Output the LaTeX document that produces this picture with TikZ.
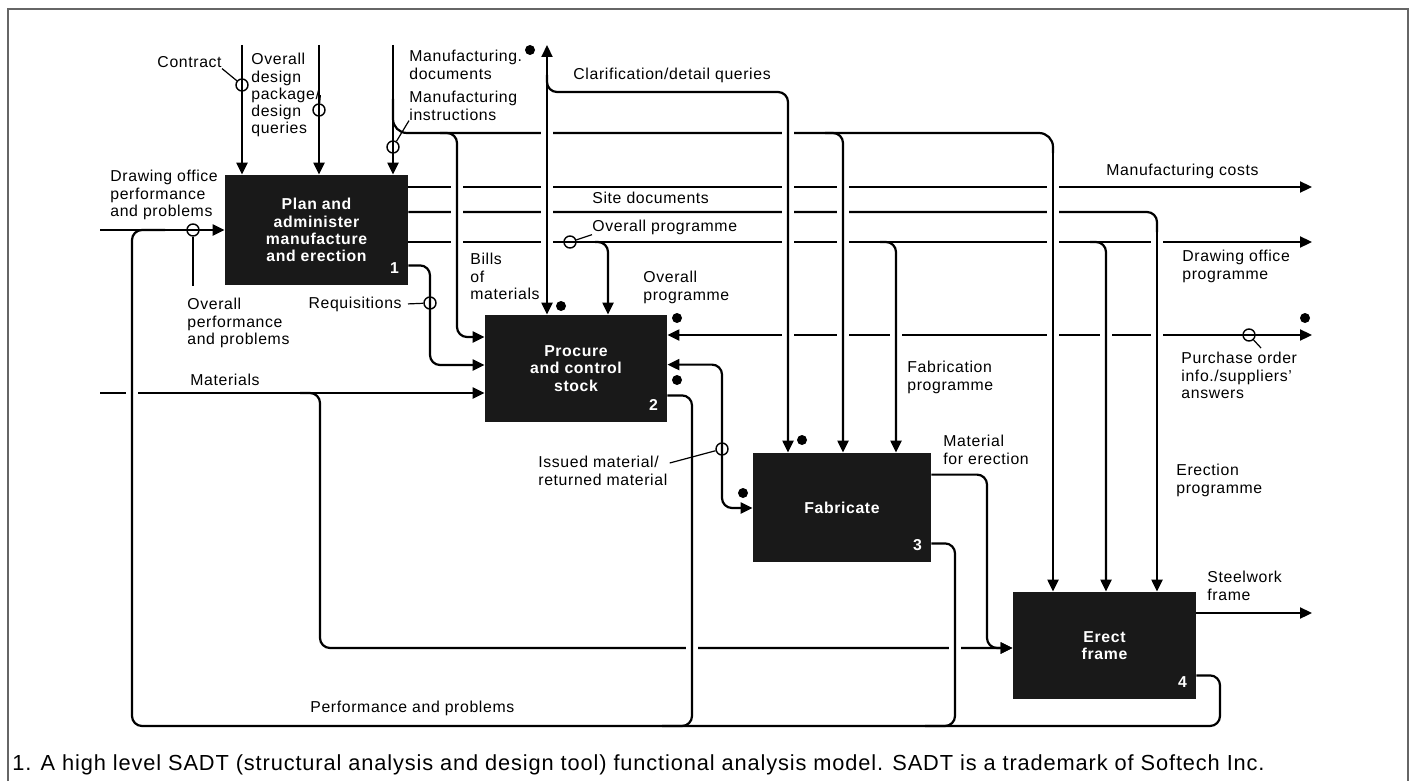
\documentclass[tikz,border=0pt]{standalone}
\usepackage{fontspec}
\setmainfont{Liberation Sans}[LetterSpace=4]
\usetikzlibrary{arrows.meta,positioning}

\newcommand{\lblsize}{\fontsize{7.9}{8.6}\selectfont}
\newcommand{\capsize}{\fontsize{10.9}{12}\selectfont}

\tikzset{
  fn/.style={fill=black!90, text=white, font=\lblsize\bfseries, align=center, inner sep=0pt},
  lbl/.style={font=\lblsize, align=left, inner sep=0pt},
  num/.style={text=white, font=\lblsize\bfseries, inner sep=0pt, anchor=base east},
  wire/.style={line width=1.1pt, rounded corners=5pt},
  flow/.style={wire, -{Triangle[length=6pt,width=5.5pt]}},
  flow2/.style={wire, {Triangle[length=6pt,width=5.5pt]}-{Triangle[length=6pt,width=5.5pt]}},
  tunnel/.style={circle, draw, line width=0.7pt, minimum size=6pt, inner sep=0pt},
  blob/.style={circle, fill=black, minimum size=5pt, inner sep=0pt},
  lead/.style={line width=0.6pt},
}

\begin{document}
\begin{tikzpicture}[x=0.5pt, y=-0.5pt]
    \useasboundingbox (0,0) rectangle (1412,781);
    \draw[black!60, line width=1pt] (8,781) -- (8,9) -- (1408,9) -- (1408,781);

    % Activity boxes
    \node[fn, minimum width=91.5pt, minimum height=55pt] (b1) at (316.5,230) {Plan and\\administer\\manufacture\\and erection};
    \node[fn, minimum width=91pt, minimum height=53.5pt] (b2) at (576,368.5) {Procure\\and control\\stock};
    \node[fn, minimum width=89pt, minimum height=54.5pt] (b3) at (842,507.5) {Fabricate};
    \node[fn, minimum width=91.5pt, minimum height=53.5pt] (b4) at (1104.5,645.5) {Erect\\frame};
    \node[num] (n1) at ([shift={(-9,-12)}]b1.south east) {1};
    \node[num] (n2) at ([shift={(-9,-12)}]b2.south east) {2};
    \node[num] (n3) at ([shift={(-9,-12)}]b3.south east) {3};
    \node[num] (n4) at ([shift={(-9,-12)}]b4.south east) {4};

    % Free ends and bends
    \coordinate (inC) at (242,45);
    \coordinate (inD) at (319,45);
    \coordinate (inI) at (393,45);
    \coordinate (outQ) at (547,45);
    \coordinate (inP) at (100,230);
    \coordinate (inM) at (100,393);
    \coordinate (oCost) at (1312,187);
    \coordinate (oDop) at (1312,242);
    \coordinate (oPo) at (1312,335);
    \coordinate (oSteel) at (1312,613);
    \coordinate (jDocs) at (1053,133);
    \coordinate (jSite) at (1157,212);
    \coordinate (jBom) at (457,337);
    \coordinate (jReq) at (430,365);
    \coordinate (jFab1) at (843,133);
    \coordinate (jFab2) at (896,242);
    \coordinate (jQry) at (788,92);
    \coordinate (jProg) at (608,242);
    \coordinate (jEr2) at (1106,242);
    \coordinate (jMat) at (320,648);
    \coordinate (jMfe) at (987,648);
    \coordinate (jIss) at (722,508);
    \coordinate (jOut2) at (692,726);
    \coordinate (jOut3) at (955,726);
    \coordinate (jOut4) at (1220,726);
    \coordinate (jLoop) at (132,726);
    \coordinate (jFeed) at (165,230);

    % Horizontal runs (broken where crossed)
    \draw[wire, rounded corners=7pt] ([yshift=-27pt]inI) |- (jDocs) -- ++(0,20);
    \draw[flow] (b1.east |- oCost) -- (oCost);
    \draw[wire] (b1.east |- jSite) -- (jSite) -- ++(0,20);
    \draw[flow] (b1.east |- oDop) -- (oDop);
    \draw[flow2] (b2.east |- oPo) -- (oPo);
    \draw[flow] (inM) -- (inM -| b2.west);
    \draw[flow] (300,393) -| (jMat) -- (jMat -| b4.west);
    \draw[flow] (inP) -- (inP -| b1.west);
    \draw[flow] (b4.east |- oSteel) -- (oSteel);

    % Gaps at crossings
    \foreach \x/\y in {457/187,457/212,457/242,547/133,547/187,547/212,547/242,
        788/133,788/187,788/212,788/242,788/335,843/187,843/212,843/242,843/335,
        896/335,1053/187,1053/212,1053/242,1053/335,1106/335,1157/242,1157/335,
        692/648,955/648,132/393}
        \fill[white] (\x-6,\y-3.5) rectangle (\x+6,\y+3.5);

    % Vertical runs
    \draw[flow] (inC) -- (inC |- b1.north);
    \draw[flow] (inD) -- (inD |- b1.north);
    \draw[flow] (inI) -- (inI |- b1.north);
    \draw[flow2] (outQ |- b2.north) -- (outQ);
    \draw[flow] ([yshift=-15pt]outQ) |- (jQry) -- (jQry |- b3.north);
    \draw[flow] (440,133) -| (jBom) -- (jBom -| b2.west);
    \draw[flow] ([yshift=10pt]b1.south east) -| (jReq) -- (jReq -| b2.west);
    \draw[flow] (595,242) -- (jProg) -- (jProg |- b2.north);
    \draw[flow] (825,133) -- (jFab1) -- (jFab1 |- b3.north);
    \draw[flow] (880,242) -- (jFab2) -- (jFab2 |- b3.north);
    \draw[flow] ([yshift=-8pt]jDocs) -- (jDocs |- b4.north);
    \draw[flow] (1090,242) -- (jEr2) -- (jEr2 |- b4.north);
    \draw[flow] ([yshift=-8pt]jSite) -- (jSite |- b4.north);
    \draw[flow2] ([yshift=-25pt]b2.north east) -| (jIss) -- (jIss -| b3.west);
    \draw[flow] ([yshift=-11pt]b3.north east) -| (jMfe) -- (jMfe -| b4.west);
    \draw[wire] ([yshift=13.5pt]b2.south east) -| (jOut2) -- ++(-30,0);
    \draw[wire] ([yshift=9.5pt]b3.south east) -| (jOut3) -- ++(-30,0);
    \draw[wire] ([yshift=12pt]b4.south east) -| (jOut4) -- (jLoop) |- (jFeed);

    % Labels
    \node[lbl, anchor=base east] (lcontract) at (222,68) {Contract};
    \node[lbl, anchor=north west] (ldesign) at (251,53) {Overall\\design\\package/\\design\\queries};
    \node[lbl, anchor=north west] (ldocs) at (409,50) {Manufacturing.\\documents};
    \node[lbl, anchor=north west] (linstr) at (409,91) {Manufacturing\\instructions};
    \node[lbl, anchor=base west] (lquery) at (573,80) {Clarification/detail queries};
    \node[lbl, anchor=north west] (ldoperf) at (110,170) {Drawing office\\performance\\and problems};
    \node[lbl, anchor=north west] (lperf) at (187,298) {Overall\\performance\\and problems};
    \node[lbl, anchor=base east] (lreq) at (402,308) {Requisitions};
    \node[lbl, anchor=north west] (lbom) at (470,253) {Bills\\of\\materials};
    \node[lbl, anchor=base west] (lsite) at (592,203) {Site documents};
    \node[lbl, anchor=base west] (lprog) at (592,231) {Overall programme};
    \node[lbl, anchor=north west] (lprog2) at (643,271) {Overall\\programme};
    \node[lbl, anchor=base west] (lcost) at (1106,175) {Manufacturing costs};
    \node[lbl, anchor=north west] (ldop) at (1182,250) {Drawing office\\programme};
    \node[lbl, anchor=north west] (lpo) at (1181,352) {Purchase order\\info./suppliers'\\answers};
    \node[lbl, anchor=north west] (lfab) at (907,361) {Fabrication\\programme};
    \node[lbl, anchor=base west] (lmat) at (190,385) {Materials};
    \node[lbl, anchor=north west] (liss) at (538,456) {Issued material/\\returned material};
    \node[lbl, anchor=north west] (lmfe) at (943,435) {Material\\for erection};
    \node[lbl, anchor=north west] (lerect) at (1176,464) {Erection\\programme};
    \node[lbl, anchor=north west] (lsteel) at (1207,571) {Steelwork\\frame};
    \node[lbl, anchor=base west] (lpp) at (310,712) {Performance and problems};
    \node[lbl, font=\capsize, anchor=base west] (caption) at (12,770) {1. A high level SADT (structural analysis and design tool) functional analysis model. SADT is a trademark of Softech Inc.};

    % Tunnels and leaders
    \node[tunnel] (t1) at (242,85) {};
    \node[tunnel] (t2) at (319,110) {};
    \node[tunnel] (t3) at (393,147) {};
    \node[tunnel] (t4) at (193,230) {};
    \node[tunnel] (t5) at (430,303) {};
    \node[tunnel] (t6) at (570,242) {};
    \node[tunnel] (t7) at (722,449) {};
    \node[tunnel] (t8) at (1249,335) {};
    \draw[lead] (lcontract.south east) -- (t1);
    \draw[lead] (ldesign.east) -- (t2);
    \draw[lead] (linstr.south west) -- (t3);
    \draw[lead] (t4) -- ([yshift=6pt]t4 |- lperf.north);
    \draw[lead] ([xshift=3pt]lreq.east) -- (t5);
    \draw[lead] (t6) -- (lprog.south west);
    \draw[lead] ([shift={(2,7)}]liss.north east) -- (t7);
    \draw[lead] (t8) -- ([shift={(80,-4)}]lpo.north west);

    % Dots
    \node[blob] (d1) at (530,50) {};
    \node[blob] (d2) at (561,306) {};
    \node[blob] (d3) at (677,318) {};
    \node[blob] (d4) at (677,380) {};
    \node[blob] (d5) at (802,440) {};
    \node[blob] (d6) at (743,493) {};
    \node[blob] (d7) at (1305,318) {};
\end{tikzpicture}
\end{document}
